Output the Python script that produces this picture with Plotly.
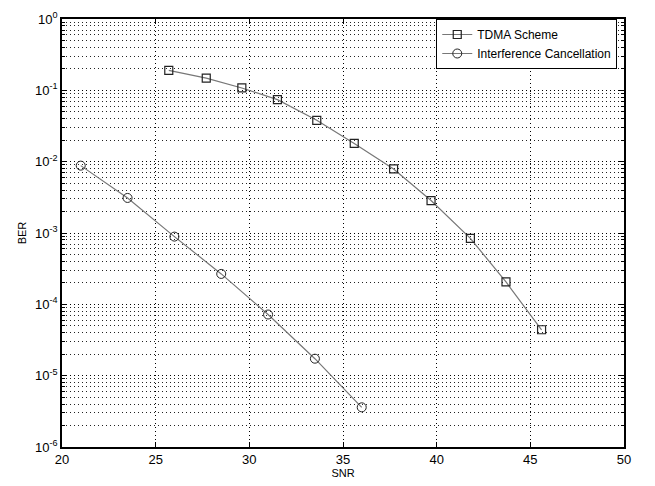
import plotly.graph_objects as go

tdma_snr = [25.7, 27.7, 29.6, 31.5, 33.6, 35.6, 37.7, 39.7, 41.8, 43.7, 45.6]
tdma_ber = [0.19, 0.148, 0.108, 0.074, 0.038, 0.018, 0.0079, 0.00285, 0.00084, 0.000206, 4.4e-5]
ic_snr = [21.0, 23.5, 26.0, 28.5, 31.0, 33.5, 36.0]
ic_ber = [0.0088, 0.0031, 0.00089, 0.000267, 7.2e-5, 1.73e-5, 3.6e-6]

x_ticks = [20, 25, 30, 35, 40, 45, 50]
y_ticks = [1e-6, 1e-5, 1e-4, 1e-3, 1e-2, 1e-1, 1e0]
y_labels = ["10<sup>-6</sup>", "10<sup>-5</sup>", "10<sup>-4</sup>", "10<sup>-3</sup>",
            "10<sup>-2</sup>", "10<sup>-1</sup>", "10<sup>0</sup>"]

line_col = "#777777"
mk_col = "#222222"
fnt = "Liberation Sans, Arial"

fig = go.Figure()
fig.add_trace(go.Scatter(
    x=tdma_snr, y=tdma_ber, mode="lines+markers", name="TDMA Scheme",
    line=dict(color=line_col, width=1.2),
    marker=dict(symbol="square-open", size=8, color=mk_col, line=dict(width=1.2)),
))
fig.add_trace(go.Scatter(
    x=ic_snr, y=ic_ber, mode="lines+markers", name="Interference Cancellation",
    line=dict(color=line_col, width=1.2),
    marker=dict(symbol="circle-open", size=9, color=mk_col, line=dict(width=1)),
))

grid_dash = "1px,3px"
axis_common = dict(
    showline=True, linecolor="black", linewidth=1.5, mirror="allticks",
    ticks="inside", ticklen=5, tickcolor="black",
    showgrid=True, gridcolor="black", griddash=grid_dash, gridwidth=1,
    zeroline=False,
    tickfont=dict(family=fnt, size=13, color="black"),
)

fig.update_xaxes(
    **axis_common, range=[20, 50], tickvals=x_ticks,
    title=dict(text="SNR", font=dict(family=fnt, size=11, color="black"), standoff=1),
)
fig.update_yaxes(
    **axis_common, type="log", range=[-6, 0], tickvals=y_ticks, ticktext=y_labels,
    minor=dict(dtick="D1", showgrid=True, gridcolor="#222222", griddash=grid_dash,
               ticks="inside", ticklen=3, tickcolor="black"),
    title=dict(text="BER", font=dict(family=fnt, size=11, color="black"), standoff=6),
)

fig.update_layout(
    width=655, height=486,
    margin=dict(l=62, r=31, t=10, b=35),
    plot_bgcolor="white", paper_bgcolor="white",
    font=dict(family=fnt, size=11, color="black"),
    legend=dict(
        x=0.988, y=1.0, xanchor="right", yanchor="top",
        bgcolor="white", bordercolor="black", borderwidth=1,
        font=dict(size=12), tracegroupgap=0,
        itemwidth=30,
    ),
)

fig.write_html("out.html", config={"displayModeBar": False},
               post_script="document.body.style.margin='0';")
